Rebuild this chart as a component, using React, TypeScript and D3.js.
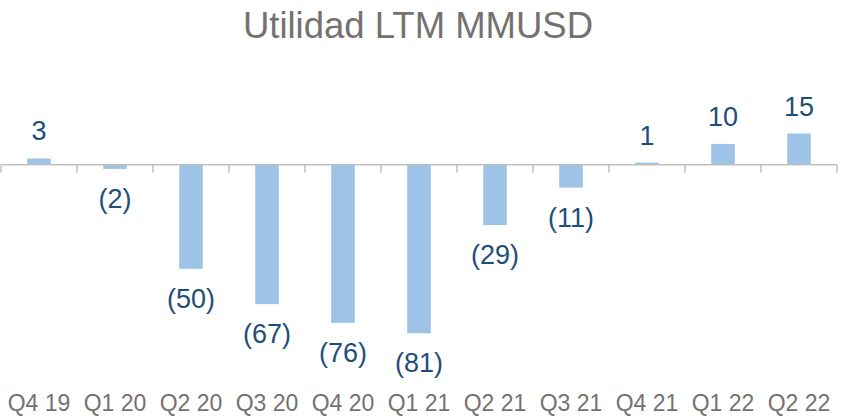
import React, { useEffect, useRef } from 'react';
import * as d3 from 'd3';

const categories = ['Q4 19', 'Q1 20', 'Q2 20', 'Q3 20', 'Q4 20', 'Q1 21', 'Q2 21', 'Q3 21', 'Q4 21', 'Q1 22', 'Q2 22'];
const values = [3, -2, -50, -67, -76, -81, -29, -11, 1, 10, 15];

const W = 841;
const H = 416;

const fmt = (v: number) => (v < 0 ? `(${Math.abs(v)})` : `${v}`);

const App = () => {
  const svgRef = useRef<SVGSVGElement | null>(null);

  useEffect(() => {
    const svg = d3.select(svgRef.current);
    svg.selectAll('*').remove();

    const font = '"Liberation Sans", Arial, sans-serif';

    const x = d3.scaleBand<string>()
      .domain(categories)
      .range([1, 837])
      .padding(0);

    const y = d3.scaleLinear()
      .domain([-90, 30])
      .range([352, 102.3]);

    const barW = x.bandwidth() * 0.31;
    const y0 = y(0);

    // title
    svg.append('text')
      .attr('x', 418)
      .attr('y', 38)
      .attr('text-anchor', 'middle')
      .style('font-family', font)
      .style('font-size', '36.5px')
      .attr('fill', '#767171')
      .text('Utilidad LTM MMUSD');

    // bars
    svg.selectAll('.bar')
      .data(values)
      .enter()
      .append('rect')
      .attr('class', 'bar')
      .attr('x', (d, i) => x(categories[i])! + x.bandwidth() / 2 - barW / 2)
      .attr('y', d => Math.min(y(d), y0))
      .attr('width', barW)
      .attr('height', d => Math.abs(y(d) - y0))
      .attr('fill', '#9DC3E6');

    // zero axis with ticks between categories
    svg.append('line')
      .attr('x1', 1)
      .attr('x2', 837)
      .attr('y1', y0)
      .attr('y2', y0)
      .attr('stroke', '#BFBFBF')
      .attr('stroke-width', 1.5);

    const ticks = categories.map(c => x(c)!).concat([x(categories[categories.length - 1])! + x.bandwidth()]);
    svg.selectAll('.tick')
      .data(ticks)
      .enter()
      .append('line')
      .attr('x1', d => d)
      .attr('x2', d => d)
      .attr('y1', y0)
      .attr('y2', y0 + 8)
      .attr('stroke', '#BFBFBF')
      .attr('stroke-width', 1.5);

    // value labels
    svg.selectAll('.lbl')
      .data(values)
      .enter()
      .append('text')
      .attr('x', (d, i) => x(categories[i])! + x.bandwidth() / 2)
      .attr('y', d => (d >= 0 ? y(d) - 18 : y(d) + 39))
      .attr('text-anchor', 'middle')
      .style('font-family', font)
      .style('font-size', '27px')
      .attr('fill', '#1F4E79')
      .text(d => fmt(d));

    // category labels
    svg.selectAll('.cat')
      .data(categories)
      .enter()
      .append('text')
      .attr('x', d => x(d)! + x.bandwidth() / 2)
      .attr('y', 411)
      .attr('text-anchor', 'middle')
      .style('font-family', font)
      .style('font-size', '23px')
      .attr('fill', '#767171')
      .text(d => d);
  }, []);

  return (
    <div style={{ position: 'fixed', left: 0, top: 0, width: W, height: H, background: '#fff' }}>
      <svg ref={svgRef} width={W} height={H} />
    </div>
  );
};

export default App;
